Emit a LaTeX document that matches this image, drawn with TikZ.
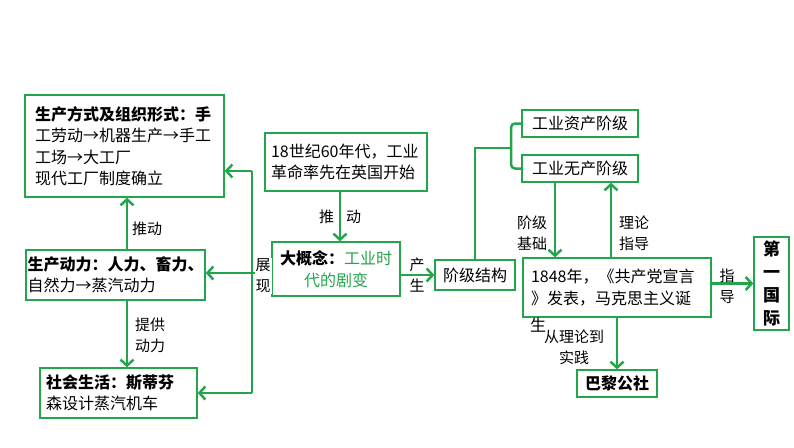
\documentclass[tikz,border=0pt]{standalone}
\usepackage{fontspec}
\setmainfont{Noto Sans CJK SC}
\usetikzlibrary{arrows.meta}
\definecolor{lineg}{RGB}{35,165,75}
\tikzset{
  box/.style={draw=lineg, line width=1.3pt, fill=white, inner sep=0pt, font=\fontsize{16}{21.5}\selectfont},
  ln/.style={draw=lineg, line width=2.5pt},
  arr/.style={ln, -{Straight Barb[length=6pt,width=13pt]}},
  lab/.style={font=\fontsize{15}{21}\selectfont, align=center, inner sep=1pt},
}
\begin{document}
\begin{tikzpicture}[x=1pt, y=-1pt]
\useasboundingbox (0,0) rectangle (794,447);
\node[box, text width=179pt, align=left, minimum width=199pt, minimum height=102pt] (mode) at (124.5,146){{\bfseries 生产方式及组织形式：手}\\工劳动→机器生产→手工\\工场→大工厂\\现代工厂制度确立};
\node[box, text width=176pt, align=left, minimum width=179pt, minimum height=50pt] (power) at (115.5,275){{\bfseries 生产动力：人力、畜力、}\\自然力→蒸汽动力};
\node[box, text width=145pt, align=left, minimum width=157pt, minimum height=50pt] (life) at (118.5,393){{\bfseries 社会生活：斯蒂芬}\\森设计蒸汽机车};
\node[box, text width=150pt, align=left, minimum width=162pt, minimum height=58pt] (origin) at (346,162){18世纪60年代，工业\\革命率先在英国开始};
\node[box, align=center, minimum width=128pt, minimum height=54pt] (core) at (336,269){{\bfseries 大概念：}\textcolor{lineg}{工业时}\\\textcolor{lineg}{代的剧变}};
\node[box, minimum width=80pt, minimum height=30pt] (cls) at (475,275){阶级结构};
\node[box, minimum width=116pt, minimum height=27pt] (bour) at (580,123.5){工业资产阶级};
\node[box, minimum width=116pt, minimum height=27pt] (prol) at (580,168.5){工业无产阶级};
\node[box, text width=172pt, align=left, minimum width=188pt, minimum height=59pt] (mani) at (617,287.5){1848年，《共产党宣言\\》发表，马克思主义诞};
\node[box, align=center, minimum width=35pt, minimum height=93pt, font=\bfseries\fontsize{17}{23}\selectfont] (intl) at (771.5,283.5){第\\一\\国\\际};
\node[box, minimum width=80pt, minimum height=27pt, font=\bfseries\fontsize{16}{20}\selectfont] (paris) at (617,383.5){巴黎公社};
\node[font=\fontsize{16}{20}\selectfont, inner sep=0pt] (mani2) at (538,325){生};
\coordinate (sp1) at (252,171);
\coordinate (sp0) at (252,273);
\coordinate (sp2) at (252,393);
\coordinate (vx) at (127,0);
\coordinate (dx) at (340,0);
\coordinate (jb) at (555,0);
\coordinate (ll) at (611,0);
\coordinate (bj) at (511,148);
\draw[ln](sp1) -- (sp2);
\draw[arr](sp1) -- (mode.east |- sp1);
\draw[arr](core.west |- sp0) -- (power.east |- sp0);
\draw[arr](sp2) -- (life.east |- sp2);
\draw[arr](power.north -| vx) -- (mode.south -| vx);
\draw[arr](power.south -| vx) -- (life.north -| vx);
\draw[arr](origin.south -| dx) -- (core.north -| dx);
\draw[arr](core.east |- cls.west) -- (cls.west);
\draw[ln](cls.north) |- (bj);
\draw[ln, rounded corners=4pt](bour.west) -| (bj) |- (prol.west);
\draw[arr](prol.south -| jb) -- (mani.north -| jb);
\draw[arr](mani.north -| ll) -- (prol.south -| ll);
\draw[arr](mani.east |- intl.west) -- (intl.west);
\draw[arr](mani.south) -- (paris.north);
\node[lab] (l1) at (147,229){推动};
\node[lab] (l2) at (150,335){提供\\动力};
\node[lab] (l3) at (340,217){推\hspace{12pt}动};
\node[lab, fill=white] (l4) at (263,276){展\\现};
\node[lab] (l5) at (417,275){产\\生};
\node[lab] (l6) at (532,233){阶级\\基础};
\node[lab] (l7) at (634,233){理论\\指导};
\node[lab] (l8) at (727,286){指\\导};
\node[lab] (l9) at (574,347){从理论到\\实践};
\end{tikzpicture}
\end{document}
